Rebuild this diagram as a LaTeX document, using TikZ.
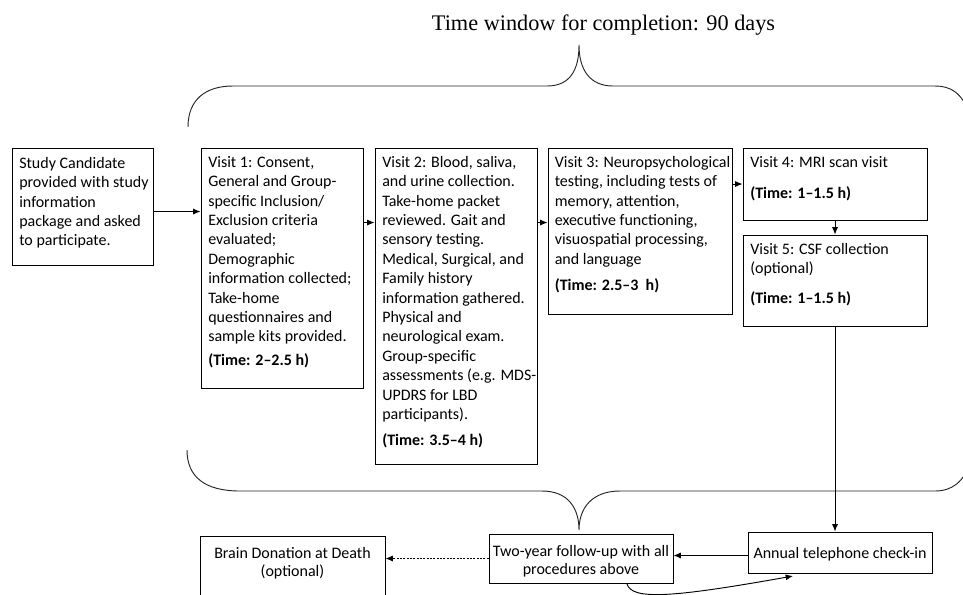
\documentclass[tikz,border=0pt]{standalone}
\usepackage{fontspec}
\setmainfont{Carlito}
\newfontfamily\titlefont{Liberation Serif}
\usetikzlibrary{arrows.meta,calc,fit}
\newcommand\fstrut{\rule{0pt}{10.5pt}}
\begin{document}
\begin{tikzpicture}[x=0.75pt,y=-0.75pt,
  box/.style={draw=black, line width=0.7pt, inner sep=0pt},
  txt/.style={anchor=north west, align=left, inner sep=0pt, font=\fontsize{12}{14.55}\selectfont},
  ctxt/.style={align=center, inner sep=0pt, font=\fontsize{12}{13.5}\selectfont},
  arr/.style={-{Latex[length=5.5pt,width=4.5pt]}, line width=0.7pt},
  dotarr/.style={-{Latex[length=5.5pt,width=4.5pt]}, line width=0.7pt, dash pattern=on 1.5pt off 1pt},
  brace/.style={line width=0.7pt, draw=black!85}]
\useasboundingbox (0,0) rectangle (963,594);
\clip (0,0) rectangle (963,594);

% title
\node[anchor=base, inner sep=0pt, font=\titlefont\fontsize{16.7}{18}\selectfont] (title) at (603.5,30) {Time window for completion: 90 days};

% braces
\draw[brace] (188,127) .. controls (188,100) and (205,86) .. (233,86) -- (547,86)
  .. controls (570,86) and (579,70) .. (579,45)
  .. controls (579,70) and (590,86) .. (613,86) -- (935,86)
  .. controls (950,86) and (962,92) .. (970,115);
\draw[brace] (187,450) .. controls (187,477) and (205,491) .. (240,491) -- (542,491)
  .. controls (568,491) and (579,508) .. (579,530)
  .. controls (579,508) and (592,491) .. (620,491) -- (935,491)
  .. controls (952,491) and (964,482) .. (970,462);

% boxes
\node[box, fit={(12,148) (153,265)}] (sc) {};
\node[box, fit={(201,148) (363,388)}] (v1) {};
\node[box, fit={(375,148) (537,464)}] (v2) {};
\node[box, fit={(548,148) (732,314)}] (v3) {};
\node[box, fit={(743,148) (927,220)}] (v4) {};
\node[box, fit={(743,235) (927,326)}] (v5) {};
\node[box, fit={(748,532) (932,573)}] (ann) {};
\node[box, fit={(489,534) (673,583)}] (two) {};
\node[box, fit={(200,536) (385,610)}] (brain) {};

% texts
\node[txt] (sct) at (19,154) {\fstrut Study Candidate\\provided with study\\information\\package and asked\\to participate.};
\node[txt] (v1t) at (208,153) {\fstrut Visit 1: Consent,\\General and Group-\\specific Inclusion/\\Exclusion criteria\\evaluated;\\Demographic\\information collected;\\Take-home\\questionnaires and\\sample kits provided.\\[3pt]\textbf{(Time: 2–2.5 h)}};
\node[txt] (v2t) at (382,153) {\fstrut Visit 2: Blood, saliva,\\and urine collection.\\Take-home packet\\reviewed. Gait and\\sensory testing.\\Medical, Surgical, and\\Family history\\information gathered.\\Physical and\\neurological exam.\\Group-specific\\assessments (e.g. MDS-\\UPDRS for LBD\\participants).\\[5pt]\textbf{(Time: 3.5–4 h)}};
\node[txt] (v3t) at (554.5,153) {\fstrut Visit 3: Neuropsychological\\testing, including tests of\\memory, attention,\\executive functioning,\\visuospatial processing,\\and language\\[5pt]\textbf{(Time: 2.5–3\ \ h)}};
\node[txt] (v4t) at (750,153) {\fstrut Visit 4: MRI scan visit\\[8.5pt]\textbf{(Time: 1–1.5 h)}};
\node[txt] (v5t) at (750,240) {\fstrut Visit 5: CSF collection\\(optional)\\[8pt]\textbf{(Time: 1–1.5 h)}};
\node[ctxt] (annt) at (840,554) {Annual telephone check-in};
\node[ctxt] (twot) at (581,561) {Two-year follow-up with all\\procedures above};
\node[ctxt] (braint) at (292.5,563) {Brain Donation at Death\\(optional)};

% connectors
\draw[arr] ($(sc.north east)+(0,64)$) -- ($(v1.north west)+(0,64)$);
\draw[arr] ($(v1.north east)+(0,75)$) -- ($(v2.north west)+(0,75)$);
\draw[arr] ($(v2.north east)+(0,75)$) -- ($(v3.north west)+(0,75)$);
\draw[arr] (v3.east |- v4.west) -- (v4.west);
\draw[arr] (v4.south) -- (v5.north);
\draw[arr] (v5.south) -- (v5.south |- ann.north);
\coordinate (aw) at ($(ann.west)+(0,3)$);
\draw[arr] (aw) -- (aw -| two.east);
\draw[dotarr] (two.west) -- (two.west -| brain.east);
\coordinate (cs) at (627,584);
\coordinate (ce) at (793,576);
\draw[arr] (cs) .. controls (632,600) and (670,598) .. (ce);
\end{tikzpicture}
\end{document}
